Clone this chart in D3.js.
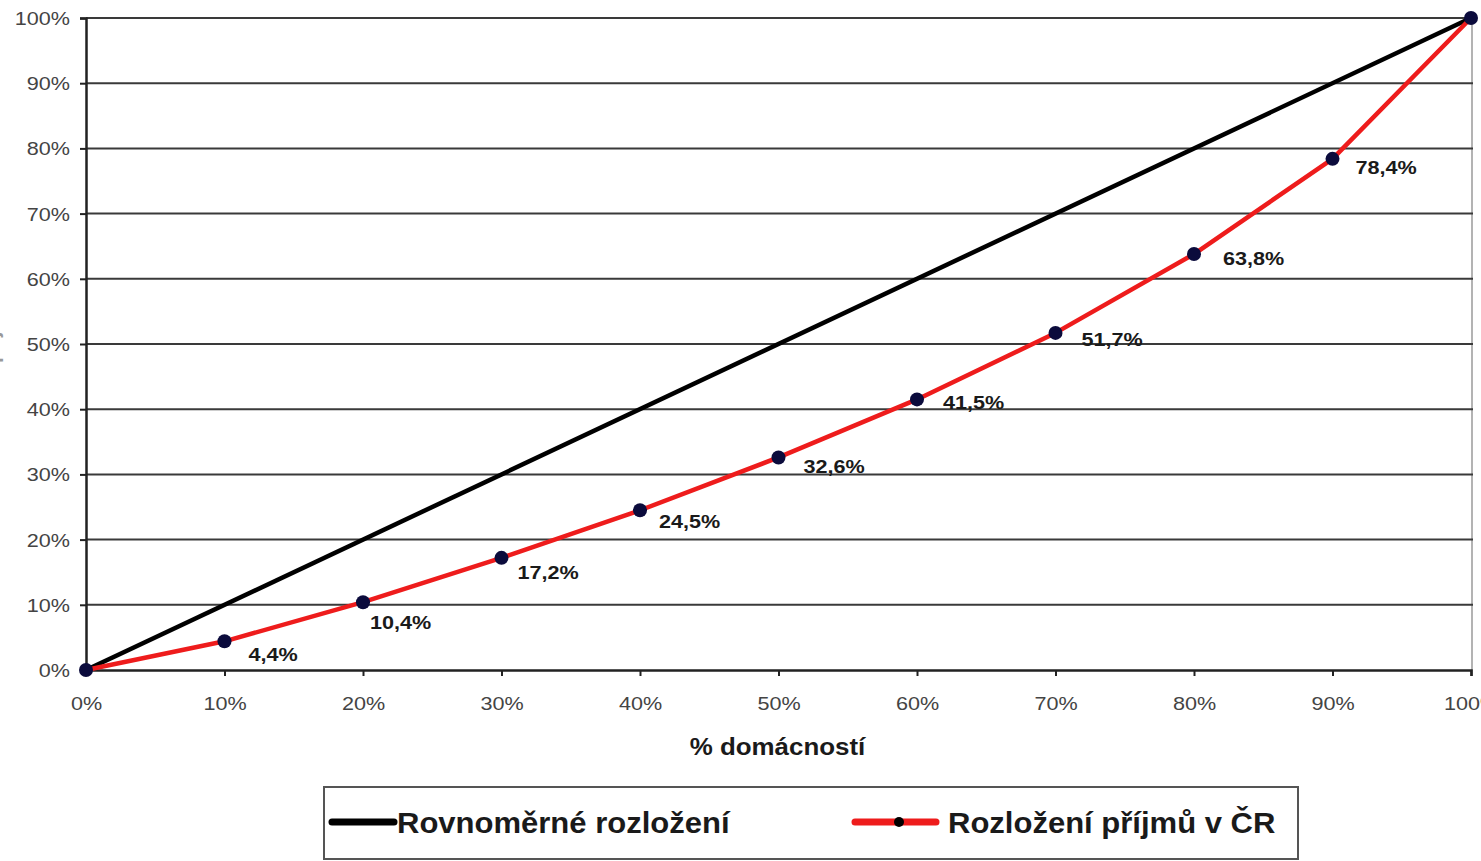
<!DOCTYPE html>
<html>
<head>
<meta charset="utf-8">
<script src="https://cdn.jsdelivr.net/npm/d3@7"></script>
<style>
  html, body { margin: 0; padding: 0; background: #fff; overflow: hidden; }
  svg { display: block; font-family: "Liberation Sans", Arial, sans-serif; }
</style>
</head>
<body>
<svg id="chart" width="1481" height="861"></svg>
<script>
// Lorenz curve of household income in the Czech Republic
const households = [0, 10, 20, 30, 40, 50, 60, 70, 80, 90, 100];
const incomeShare = [0, 4.4, 10.4, 17.2, 24.5, 32.6, 41.5, 51.7, 63.8, 78.4, 100];
const equalShare = [0, 100];
const yTicks = [0, 10, 20, 30, 40, 50, 60, 70, 80, 90, 100];
const xTicks = [0, 10, 20, 30, 40, 50, 60, 70, 80, 90, 100];
const seriesNames = ["Rovnoměrné rozložení", "Rozložení příjmů v ČR"];
const xTitle = "% domácností";
const yTitle = "% příjmů";

// per-label nudges (px) for the value labels at 10%..90%, to keep them clear of the curve
const labelNudge = [[24, 20], [7, 27], [16, 21], [19, 18], [25, 16], [26, 10], [26, 13], [29, 11], [23, 15]];

const svg = d3.select("#chart");
const plotL = 86, plotR = 1471, plotT = 18, plotB = 670;
const stretch = 1.2; // horizontal widening of the glyphs

const x = d3.scaleLinear().domain([0, 100]).range([plotL, plotR]);
const y = d3.scaleLinear().domain([0, 100]).range([plotB, plotT]);
const fmt = v => v.toFixed(1).replace(".", ",") + "%";

// right border of the plot area
svg.append("line")
  .attr("x1", plotR + 1).attr("x2", plotR + 1)
  .attr("y1", plotT).attr("y2", plotB)
  .attr("stroke", "#9a9a9a").attr("stroke-width", 1.5);

// horizontal gridlines
svg.append("g").selectAll("line").data(yTicks.filter(d => d > 0)).join("line")
  .attr("x1", plotL).attr("x2", plotR + 2)
  .attr("y1", d => y(d)).attr("y2", d => y(d))
  .attr("stroke", "#3a3a3a").attr("stroke-width", 2);

// y axis
const yAxis = svg.append("g")
  .attr("transform", `translate(${plotL},0)`)
  .call(d3.axisLeft(y).tickValues(yTicks).tickFormat(d => d + "%").tickSize(6).tickPadding(10));
yAxis.select(".domain").attr("stroke", "#222").attr("stroke-width", 2.5);
yAxis.selectAll(".tick line").attr("stroke", "#222").attr("stroke-width", 2);
yAxis.selectAll("text")
  .attr("font-size", 18).attr("fill", "#444").attr("dy", "0.36em")
  .attr("x", -16 / stretch).attr("transform", `scale(${stretch},1)`);

// x axis
const xAxis = svg.append("g")
  .attr("transform", `translate(0,${plotB})`)
  .call(d3.axisBottom(x).tickValues(xTicks).tickFormat(d => d + "%").tickSize(6).tickPadding(12));
xAxis.select(".domain").attr("stroke", "#222").attr("stroke-width", 2.5);
xAxis.selectAll(".tick line").attr("stroke", "#222").attr("stroke-width", 2);
xAxis.selectAll("text")
  .attr("font-size", 18).attr("fill", "#444").attr("y", 40).attr("dy", 0)
  .attr("transform", `scale(${stretch},1)`);

// axis titles
svg.append("text")
  .attr("transform", `translate(${(plotL + plotR) / 2 - 1},755) scale(1.08,1)`)
  .attr("text-anchor", "middle")
  .attr("font-size", 24).attr("font-weight", "bold").attr("fill", "#1a1a1a")
  .text(xTitle);
svg.append("text")
  .attr("transform", `translate(-1,${(plotT + plotB) / 2}) rotate(-90)`)
  .attr("text-anchor", "middle")
  .attr("font-size", 20).attr("font-weight", "bold").attr("fill", "#999")
  .text(yTitle);

// equal distribution diagonal
svg.append("path")
  .datum(equalShare)
  .attr("d", d3.line().x(d => x(d)).y(d => y(d)))
  .attr("fill", "none").attr("stroke", "#000").attr("stroke-width", 4.5);

// income distribution curve
const pts = households.map((h, i) => ({ h, v: incomeShare[i] }));
svg.append("path")
  .datum(pts)
  .attr("d", d3.line().x(d => x(d.h)).y(d => y(d.v)))
  .attr("fill", "none").attr("stroke", "#ee1c1c").attr("stroke-width", 4.5)
  .attr("stroke-linejoin", "round");

svg.append("g").selectAll("circle").data(pts).join("circle")
  .attr("cx", d => x(d.h)).attr("cy", d => y(d.v)).attr("r", 7)
  .attr("fill", "#0b0b3c");

// value labels
svg.append("g").selectAll("text").data(pts.filter(d => d.h > 0 && d.h < 100)).join("text")
  .attr("transform", (d, i) =>
    `translate(${x(d.h) + labelNudge[i][0]},${y(d.v) + labelNudge[i][1]}) scale(${stretch},1)`)
  .attr("font-size", 18).attr("font-weight", "bold").attr("fill", "#1a1a1a")
  .text(d => fmt(d.v));

// legend
const lg = svg.append("g");
lg.append("rect")
  .attr("x", 324).attr("y", 787).attr("width", 974).attr("height", 72)
  .attr("fill", "#fff").attr("stroke", "#555").attr("stroke-width", 2);
lg.append("line")
  .attr("x1", 332).attr("x2", 394).attr("y1", 822).attr("y2", 822)
  .attr("stroke", "#000").attr("stroke-width", 7).attr("stroke-linecap", "round");
lg.append("text")
  .attr("transform", "translate(397,833) scale(1.07,1)")
  .attr("font-size", 29).attr("font-weight", "bold").attr("fill", "#1a1a1a")
  .text(seriesNames[0]);
lg.append("line")
  .attr("x1", 855).attr("x2", 936).attr("y1", 822).attr("y2", 822)
  .attr("stroke", "#ee1c1c").attr("stroke-width", 7).attr("stroke-linecap", "round");
lg.append("circle")
  .attr("cx", 899).attr("cy", 822).attr("r", 5).attr("fill", "#000");
lg.append("text")
  .attr("transform", "translate(948,833) scale(1.07,1)")
  .attr("font-size", 29).attr("font-weight", "bold").attr("fill", "#1a1a1a")
  .text(seriesNames[1]);
</script>
</body>
</html>
